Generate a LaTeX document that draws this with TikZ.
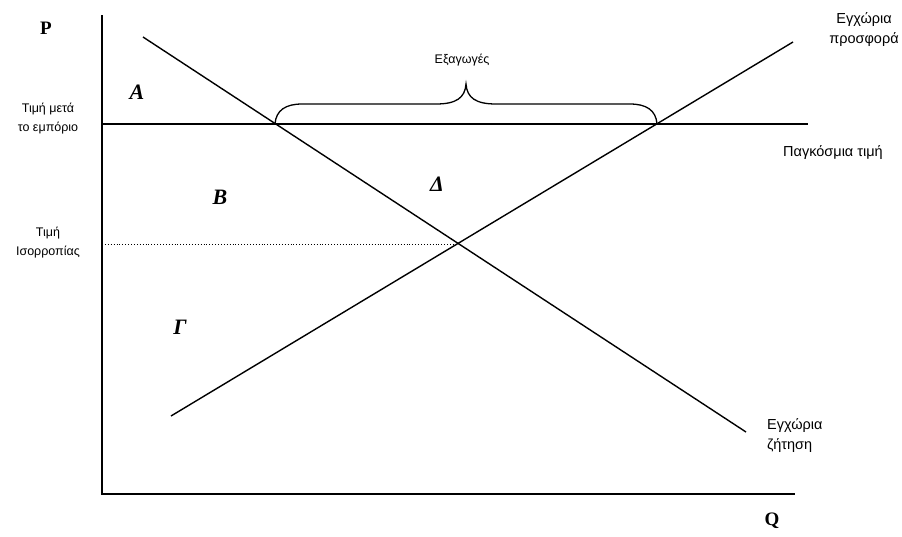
\documentclass[tikz,border=0pt]{standalone}
\usepackage{fontspec}
\setmainfont{Liberation Sans}
\newfontfamily\axisfont{Liberation Serif}
\usetikzlibrary{positioning}

\begin{document}
\begin{tikzpicture}[x=1pt, y=-1pt,
    axis/.style={line width=1.5pt},
    curve/.style={line width=1.4pt},
    axislabel/.style={font=\axisfont\bfseries\fontsize{19}{22}\selectfont},
    arealabel/.style={font=\axisfont\bfseries\itshape\fontsize{22}{24}\selectfont},
    textlabel/.style={font=\fontsize{12.5}{19}\selectfont, align=center, inner sep=0pt},
    sidelabel/.style={font=\fontsize{14.5}{20}\selectfont, align=center, inner sep=0pt}
]
\useasboundingbox (0,0) rectangle (902,536);

% axes
\coordinate (origin) at (102,494);
\coordinate (ptop) at (102,15);
\coordinate (qend) at (795,494);
\draw[axis] (ptop) -- (origin) -- (qend);
\node[axislabel] (plabel) at (46,28) {P};
\node[axislabel] (qlabel) at (772,521) {Q};

% world price after trade
\coordinate (wleft) at (102,124);
\coordinate (wright) at (808,124);
\draw[curve] (wleft) -- (wright);

% domestic demand and supply
\coordinate (dstart) at (143,37);
\coordinate (dend) at (746,432);
\coordinate (sstart) at (171,416);
\coordinate (send) at (793,42);
\draw[curve] (dstart) -- (dend);
\draw[curve] (sstart) -- (send);

% equilibrium without trade
\coordinate (eq) at (457,244);
\coordinate (eqleft) at (102,244);
\draw[line width=0.9pt, dotted] (eqleft) -- (eq);

% exports brace between the two crossings
\coordinate (dcross) at (275,124);
\coordinate (scross) at (657,124);
\coordinate (tip) at (466,84);
\draw[line width=1.3pt] (dcross) .. controls (276,110) and (286,104) .. (302,104)
    -- (436,104) .. controls (456,104) and (465,98) .. (tip)
    .. controls (467,98) and (476,104) .. (496,104)
    -- (630,104) .. controls (646,104) and (656,110) .. (scross);

% labels
\node[textlabel, font=\fontsize{12.5}{15}\selectfont] (exports) at (462,60) {Εξαγωγές};
\node[textlabel] (afterprice) at (48,119) {Τιμή μετά\\το εμπόριο};
\node[textlabel] (eqprice) at (48,243) {Τιμή\\Ισορροπίας};
\node[sidelabel] (worldprice) at (833,153) {Παγκόσμια τιμή};
\node[sidelabel] (supplylabel) at (864,30) {Εγχώρια\\προσφορά};
\node[sidelabel, align=left, anchor=west] (demandlabel) at (767,436) {Εγχώρια\\ζήτηση};

\node[arealabel] (areaA) at (137,92) {A};
\node[arealabel] (areaB) at (220,197) {B};
\node[arealabel] (areaD) at (437,184) {Δ};
\node[arealabel] (areaG) at (180,327) {Γ};
\end{tikzpicture}
\end{document}
